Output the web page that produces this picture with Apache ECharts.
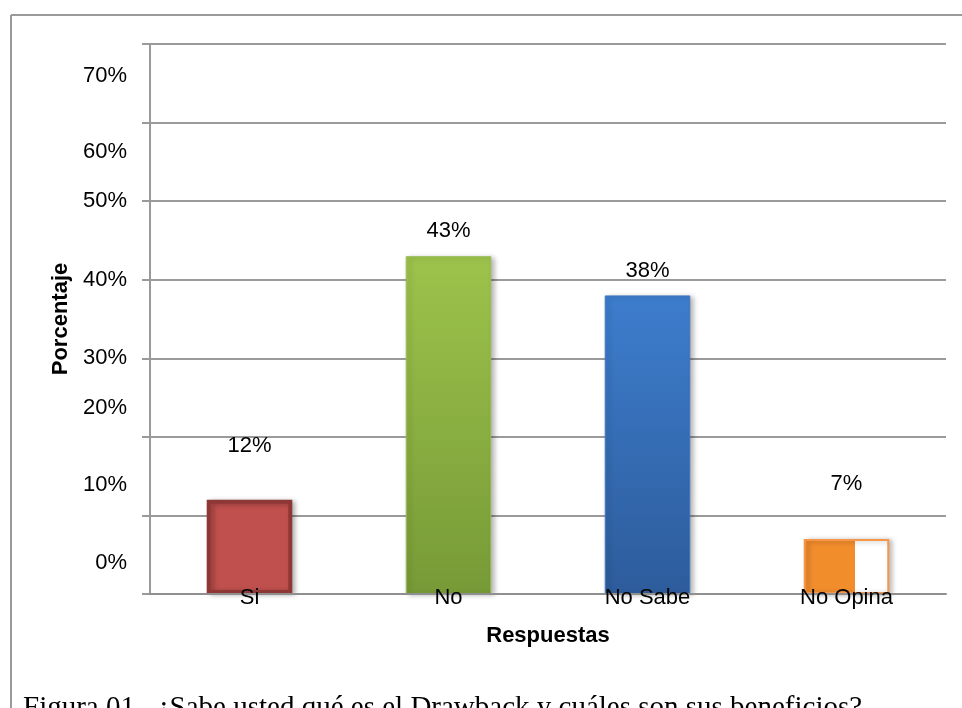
<!DOCTYPE html>
<html>
<head>
<meta charset="utf-8">
<script src="https://cdn.jsdelivr.net/npm/echarts@6/dist/echarts.min.js"></script>
<style>
html,body{margin:0;padding:0;background:#fff;}
#c{width:962px;height:708px;}
</style>
</head>
<body>
<div id="c"></div>
<script>
// ---- data ----
const categories = ['Si', 'No', 'No Sabe', 'No Opina'];
const values = [12, 43, 38, 7];
const yTickValues = [0, 10, 20, 30, 40, 50, 60, 70];
const yTickLabels = ['0%', '10%', '20%', '30%', '40%', '50%', '60%', '70%'];
const yAxisTitle = 'Porcentaje';
const xAxisTitle = 'Respuestas';
const caption = 'Figura 01.  ¿Sabe usted qué es el Drawback y cuáles son sus beneficios?';

// ---- styling (not data) ----
const labelShift = [-31, -30, -29, 0, 0, 0, 29, 32]; // px shift of each y label from its gridline
const labelDistance = [43, 14, 13, 44];
const FONT = 'Liberation Sans, Arial, sans-serif';

const rich = {};
yTickValues.forEach((v, i) => {
  const s = labelShift[i];
  rich['t' + i] = {
    fontSize: 22, fontFamily: FONT, color: '#000',
    padding: s > 0 ? [2 * s, 0, 0, 0] : (s < 0 ? [0, 0, -2 * s, 0] : 0)
  };
});

const grad = (a, b) => new echarts.graphic.LinearGradient(0, 0, 0, 1, [{offset: 0, color: a}, {offset: 1, color: b}]);
const shadow = {shadowColor: 'rgba(0,0,0,0.28)', shadowBlur: 5, shadowOffsetX: 3, shadowOffsetY: 1};
const itemStyles = [
  Object.assign({color: '#c0504d', borderColor: '#8e3836', borderWidth: 4}, shadow),
  Object.assign({color: grad('#9dc34b', '#779a37'), borderColor: '#9bbb59', borderWidth: 1}, shadow),
  Object.assign({color: grad('#3d7dcd', '#2d5c9b'), borderColor: '#4177c0', borderWidth: 1}, shadow),
  Object.assign({color: new echarts.graphic.LinearGradient(0, 0, 1, 0, [
      {offset: 0, color: '#f28d2c'}, {offset: 0.6, color: '#f28d2c'},
      {offset: 0.6, color: '#ffffff'}, {offset: 1, color: '#ffffff'}]),
    borderColor: '#f79646', borderWidth: 2}, shadow)
];

const chart = echarts.init(document.getElementById('c'), null, {renderer: 'canvas'});
chart.setOption({
  backgroundColor: '#fff',
  animation: false,
  grid: {left: 150, right: 16, top: 44, bottom: 114, containLabel: false},
  xAxis: {
    type: 'category',
    data: categories,
    z: 5,
    axisLine: {show: true, lineStyle: {color: '#8f8f8f', width: 2}},
    axisTick: {show: false},
    axisLabel: {margin: -7, fontSize: 22, fontFamily: FONT, color: '#000'},
    name: xAxisTitle,
    nameLocation: 'middle',
    nameGap: 31,
    nameTextStyle: {fontSize: 22, fontWeight: 'bold', fontFamily: FONT, color: '#000'}
  },
  yAxis: {
    type: 'value',
    min: 0, max: 70, interval: 10,
    axisLine: {show: true, lineStyle: {color: '#9a9a9a', width: 2}},
    axisTick: {show: true, length: 8, lineStyle: {color: '#9a9a9a', width: 2}},
    splitLine: {show: true, lineStyle: {color: '#9a9a9a', width: 2}},
    axisLabel: {
      margin: 23,
      formatter: (v) => {
        const i = yTickValues.indexOf(v);
        return '{t' + i + '|' + yTickLabels[i] + '}';
      },
      rich: rich
    },
    name: yAxisTitle,
    nameLocation: 'middle',
    nameGap: 78,
    nameRotate: 90,
    nameTextStyle: {fontSize: 22, fontWeight: 'bold', fontFamily: FONT, color: '#000'}
  },
  series: [{
    type: 'bar',
    barWidth: '43%',
    data: values.map((v, i) => ({
      value: v,
      itemStyle: itemStyles[i],
      label: {distance: labelDistance[i]}
    })),
    label: {
      show: true, position: 'top',
      formatter: (p) => p.value + '%',
      fontSize: 22, fontFamily: FONT, color: '#000'
    }
  }],
  graphic: [
    {type: 'line', shape: {x1: 11, y1: 15, x2: 962, y2: 15}, style: {stroke: '#9a9a9a', lineWidth: 2}, z: 10},
    {type: 'line', shape: {x1: 11, y1: 15, x2: 11, y2: 708}, style: {stroke: '#9a9a9a', lineWidth: 2}, z: 10},
    {type: 'text', left: 23, top: 694, style: {text: caption, fontSize: 29, fontFamily: 'Liberation Serif, Times New Roman, serif', fill: '#000'}, z: 10}
  ]
});
</script>
</body>
</html>
